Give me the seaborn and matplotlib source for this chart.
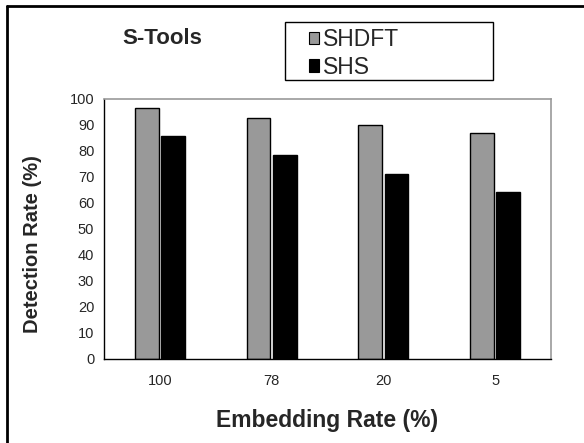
import pandas as pd
import matplotlib
matplotlib.use('Agg')
import matplotlib.pyplot as plt
from matplotlib.lines import Line2D
from matplotlib.patches import Rectangle
import seaborn as sns

rates = ['100', '78', '20', '5']
shdft = [96.7, 92.8, 90.1, 86.8]
shs = [85.8, 78.6, 71.3, 64.1]

df = pd.DataFrame({
    'rate': rates * 2,
    'value': shdft + shs,
    'method': ['SHDFT'] * len(rates) + ['SHS'] * len(rates),
})

sns.set_style('white')
plt.rcParams['font.family'] = ['Liberation Sans', 'DejaVu Sans']

W, H = 584, 443
fig = plt.figure(figsize=(W / 100, H / 100), dpi=100)
ax = fig.add_axes([104 / W, 1 - 359 / H, 447 / W, 260 / H])

sns.barplot(data=df, x='rate', y='value', hue='method', order=rates,
            palette={'SHDFT': '#999999', 'SHS': '#000000'},
            width=0.47, gap=0.1, edgecolor='black', linewidth=1,
            saturation=1, ax=ax)

ax.set_xlim(-0.5, 3.5)
ax.set_ylim(0, 100)
ax.set_yticks(range(0, 101, 10))
ax.set_xticks([-0.5, 0.5, 1.5, 2.5, 3.5])
ax.set_xticklabels([])
ax.set_xticks(range(len(rates)), minor=True)
ax.set_xticklabels(rates, minor=True)
ax.tick_params(axis='x', which='minor', length=0, pad=11, labelsize=10.5)
ax.tick_params(axis='x', which='major', direction='out', length=4, width=1, color='black')
ax.tick_params(axis='y', direction='out', length=4, width=1, color='black', labelsize=10.5, pad=3)

for side in ['top', 'right']:
    ax.spines[side].set_color('#999999')
    ax.spines[side].set_linewidth(1.2)
for side in ['left', 'bottom']:
    ax.spines[side].set_color('black')
    ax.spines[side].set_linewidth(1)

ax.set_xlabel('Embedding Rate (%)', fontsize=16.5, fontweight='bold', va='center')
ax.xaxis.set_label_coords(0.5, -0.235)
ax.set_ylabel('Detection Rate (%)', fontsize=14.5, fontweight='bold', va='center')
ax.yaxis.set_label_coords(-0.159, 0.442)

fig.text(162 / W, 1 - 39 / H, 'S-Tools', fontsize=16, fontweight='bold',
         ha='center', va='center')

# legend, frame drawn separately to get the wide box
leg = ax.legend(loc='upper left', bbox_to_anchor=(309 / W, 1 - 28 / H),
                bbox_transform=fig.transFigure, borderaxespad=0, borderpad=0,
                fontsize=16.5, frameon=False,
                handlelength=0.45, handleheight=0.45, handletextpad=0.15,
                labelspacing=0.2, title=None)
for h in leg.legend_handles:
    h.set_edgecolor('black')
    h.set_linewidth(0.8)
fig.add_artist(Rectangle((285 / W, 1 - 80 / H), 208 / W, 58 / H,
                         transform=fig.transFigure, facecolor='none',
                         edgecolor='black', lw=1))

# outer border (left and top only, rest is cropped)
fig.add_artist(Line2D([7 / W, 7 / W], [0, 1 - 6 / H], color='black', lw=2))
fig.add_artist(Line2D([7 / W, 1], [1 - 6 / H, 1 - 6 / H], color='black', lw=2))

fig.savefig('out.png', dpi=100)
